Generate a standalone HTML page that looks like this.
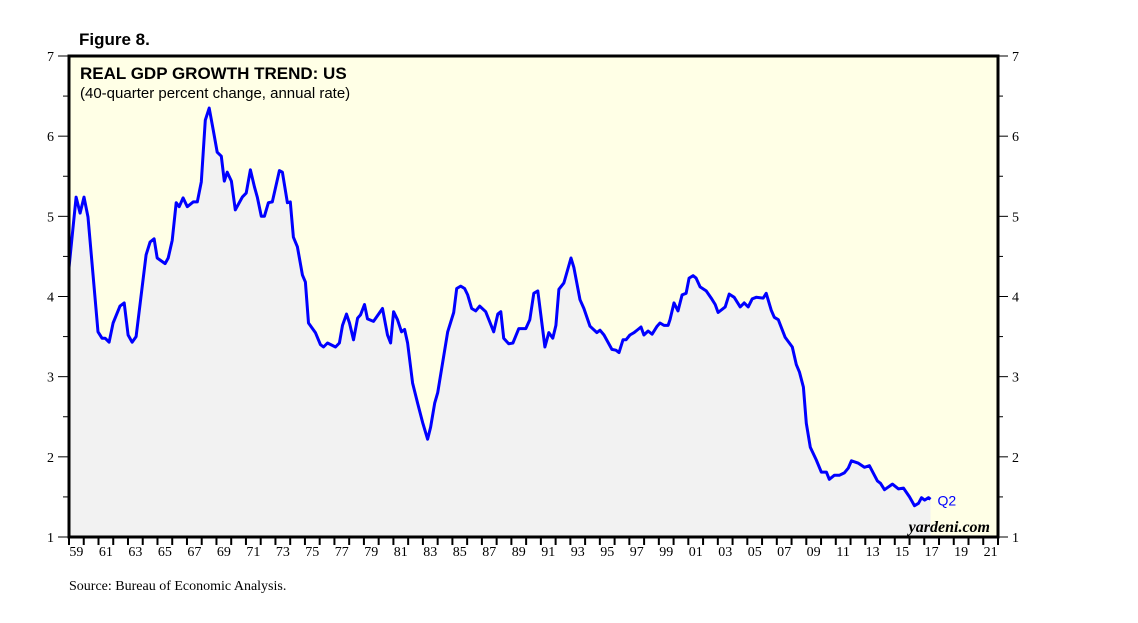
<!DOCTYPE html>
<html><head><meta charset="utf-8"><style>
html,body{margin:0;padding:0;background:#fff;}
svg{display:block;}
</style></head><body>
<svg id="chart" width="1138" height="623" xmlns="http://www.w3.org/2000/svg">
<text x="79" y="45" font-family="Liberation Sans, sans-serif" font-weight="bold" font-size="17" fill="#000">Figure 8.</text>
<rect x="69" y="56" width="929" height="481" fill="#ffffe6"/>
<g id="series"></g>
<rect x="69" y="56" width="929" height="481" fill="none" stroke="#000" stroke-width="3"/>
<text x="80" y="79" font-family="Liberation Sans, sans-serif" font-weight="bold" font-size="17" fill="#000">REAL GDP GROWTH TREND: US</text>
<text x="80" y="98" font-family="Liberation Sans, sans-serif" font-size="15" fill="#000">(40-quarter percent change, annual rate)</text>
<text x="990" y="532" text-anchor="end" font-family="Liberation Serif, serif" font-style="italic" font-weight="bold" font-size="16" fill="#000">yardeni.com</text>
<g id="axes"></g>
<text x="69" y="590" font-family="Liberation Serif, serif" font-size="14" fill="#000">Source: Bureau of Economic Analysis.</text>
</svg>
<script>
const years = [1959.0,1959.48,1959.75,1960.02,1960.29,1960.97,1961.24,1961.45,1961.72,1961.99,1962.46,1962.74,1963.01,1963.28,1963.55,1964.23,1964.5,1964.77,1964.98,1965.52,1965.73,1966.0,1966.27,1966.47,1966.74,1967.02,1967.42,1967.7,1967.97,1968.24,1968.51,1968.78,1969.05,1969.33,1969.53,1969.73,1970.01,1970.28,1970.75,1971.02,1971.3,1971.57,1971.77,1972.04,1972.25,1972.52,1972.79,1973.27,1973.47,1973.81,1974.01,1974.22,1974.49,1974.83,1975.03,1975.24,1975.71,1976.05,1976.26,1976.53,1977.07,1977.34,1977.55,1977.82,1978.02,1978.29,1978.57,1978.77,1979.04,1979.24,1979.65,1980.26,1980.6,1980.81,1981.01,1981.28,1981.55,1981.76,1981.96,1982.3,1982.64,1982.98,1983.32,1983.52,1983.8,1984.0,1984.34,1984.68,1985.09,1985.29,1985.56,1985.83,1986.04,1986.31,1986.58,1986.85,1987.26,1987.8,1988.08,1988.28,1988.48,1988.82,1989.1,1989.5,1989.98,1990.25,1990.52,1990.79,1991.27,1991.54,1991.81,1992.02,1992.22,1992.56,1993.04,1993.24,1993.65,1993.92,1994.33,1994.8,1995.01,1995.28,1995.82,1996.09,1996.3,1996.57,1996.77,1997.04,1997.32,1997.79,1997.99,1998.27,1998.54,1998.88,1999.08,1999.35,1999.63,1999.76,2000.03,2000.3,2000.58,2000.85,2001.05,2001.32,2001.53,2001.8,2002.21,2002.55,2002.82,2003.02,2003.5,2003.77,2004.11,2004.52,2004.79,2005.06,2005.33,2005.6,2006.08,2006.28,2006.62,2006.83,2007.1,2007.57,2008.05,2008.32,2008.53,2008.8,2009.0,2009.27,2009.68,2010.02,2010.36,2010.56,2010.9,2011.24,2011.58,2011.85,2012.06,2012.53,2012.94,2013.28,2013.82,2014.03,2014.3,2014.84,2015.25,2015.59,2016.0,2016.34,2016.61,2016.81,2017.02,2017.29,2017.42];
const growth = [4.36,5.24,5.04,5.24,4.99,3.56,3.48,3.48,3.43,3.67,3.88,3.92,3.52,3.43,3.5,4.52,4.68,4.72,4.48,4.41,4.48,4.7,5.17,5.12,5.23,5.12,5.18,5.18,5.43,6.2,6.35,6.08,5.8,5.75,5.44,5.55,5.44,5.08,5.24,5.29,5.58,5.37,5.24,5.0,5.0,5.17,5.18,5.57,5.55,5.17,5.18,4.74,4.62,4.27,4.18,3.67,3.55,3.4,3.37,3.42,3.37,3.42,3.64,3.78,3.67,3.46,3.73,3.77,3.9,3.72,3.69,3.85,3.52,3.42,3.81,3.71,3.56,3.59,3.42,2.92,2.67,2.43,2.22,2.37,2.67,2.8,3.18,3.56,3.8,4.1,4.13,4.1,4.02,3.85,3.82,3.88,3.81,3.56,3.78,3.81,3.48,3.41,3.42,3.6,3.6,3.71,4.04,4.07,3.37,3.55,3.48,3.64,4.09,4.17,4.48,4.36,3.96,3.85,3.63,3.55,3.58,3.52,3.34,3.33,3.3,3.46,3.46,3.52,3.55,3.62,3.52,3.57,3.53,3.63,3.67,3.64,3.64,3.71,3.92,3.82,4.02,4.04,4.23,4.26,4.23,4.12,4.07,3.98,3.9,3.8,3.87,4.03,3.99,3.87,3.92,3.87,3.97,3.99,3.98,4.04,3.83,3.74,3.71,3.49,3.37,3.15,3.06,2.87,2.42,2.12,1.96,1.81,1.81,1.72,1.77,1.77,1.8,1.86,1.95,1.92,1.87,1.89,1.7,1.67,1.59,1.66,1.6,1.61,1.5,1.39,1.42,1.49,1.46,1.49,1.47];
const yTicks = [1,2,3,4,5,6,7];
const xLabels = ["59","61","63","65","67","69","71","73","75","77","79","81","83","85","87","89","91","93","95","97","99","01","03","05","07","09","11","13","15","17","19","21"];
const xStartYear = 1959, xEndYear = 2022, yMin = 1, yMax = 7;

const L=69,R=998,T=56,B=537;
function xs(t){return L+(t-xStartYear)/(xEndYear-xStartYear)*(R-L);}
function ys(v){return B-(v-yMin)/(yMax-yMin)*(B-T);}
const NS="http://www.w3.org/2000/svg";
function mk(tag,attrs,parent){const e=document.createElementNS(NS,tag);for(const k in attrs)e.setAttribute(k,attrs[k]);parent.appendChild(e);return e;}

const series=document.getElementById('series');
let d="";
years.forEach((t,i)=>{d+=(i?"L":"M")+xs(t).toFixed(1)+","+ys(growth[i]).toFixed(1);});
const lastX=xs(years[years.length-1]).toFixed(1);
const area=mk('path',{d:d+"L"+lastX+","+B+"L"+xs(years[0]).toFixed(1)+","+B+"Z",fill:"#f2f2f2",stroke:"none"},series);


const line=mk('path',{d:d,fill:"none",stroke:"#0000ff","stroke-width":"3","stroke-linejoin":"round"},series);


const q=mk('text',{x:xs(years[years.length-1])+7,y:ys(growth[growth.length-1])+6,"font-family":"Liberation Sans, sans-serif","font-size":"14",fill:"#0000ff"},series);
q.textContent="Q2";



const axes=document.getElementById('axes');
yTicks.forEach((v,i)=>{
  const y=ys(v);
  mk('line',{x1:58,x2:L,y1:y,y2:y,stroke:"#000","stroke-width":"1"},axes);
  mk('line',{x1:R,x2:R+10,y1:y,y2:y,stroke:"#000","stroke-width":"1"},axes);
  if(i<yTicks.length-1){const ym=ys(v+0.5);
    mk('line',{x1:63,x2:L,y1:ym,y2:ym,stroke:"#000","stroke-width":"1"},axes);
    mk('line',{x1:R,x2:R+5,y1:ym,y2:ym,stroke:"#000","stroke-width":"1"},axes);}
  const tl=mk('text',{x:54,y:y+5,"text-anchor":"end","font-family":"Liberation Serif, serif","font-size":"14",fill:"#000"},axes);
  tl.textContent=v;
  
  
  const tr=mk('text',{x:1012,y:y+5,"font-family":"Liberation Serif, serif","font-size":"14",fill:"#000"},axes);
  tr.textContent=v;
  
  
});
for(let yr=xStartYear;yr<=xEndYear;yr++){
  const x=xs(yr);
  mk('line',{x1:x,x2:x,y1:B,y2:B+8,stroke:"#000","stroke-width":"2"},axes);
}
xLabels.forEach((lab,i)=>{
  const t=xStartYear+2*i+0.5;
  const e=mk('text',{x:xs(t),y:556,"text-anchor":"middle","font-family":"Liberation Serif, serif","font-size":"14",fill:"#000"},axes);
  e.textContent=lab;
  
  
});
</script>
</body></html>
